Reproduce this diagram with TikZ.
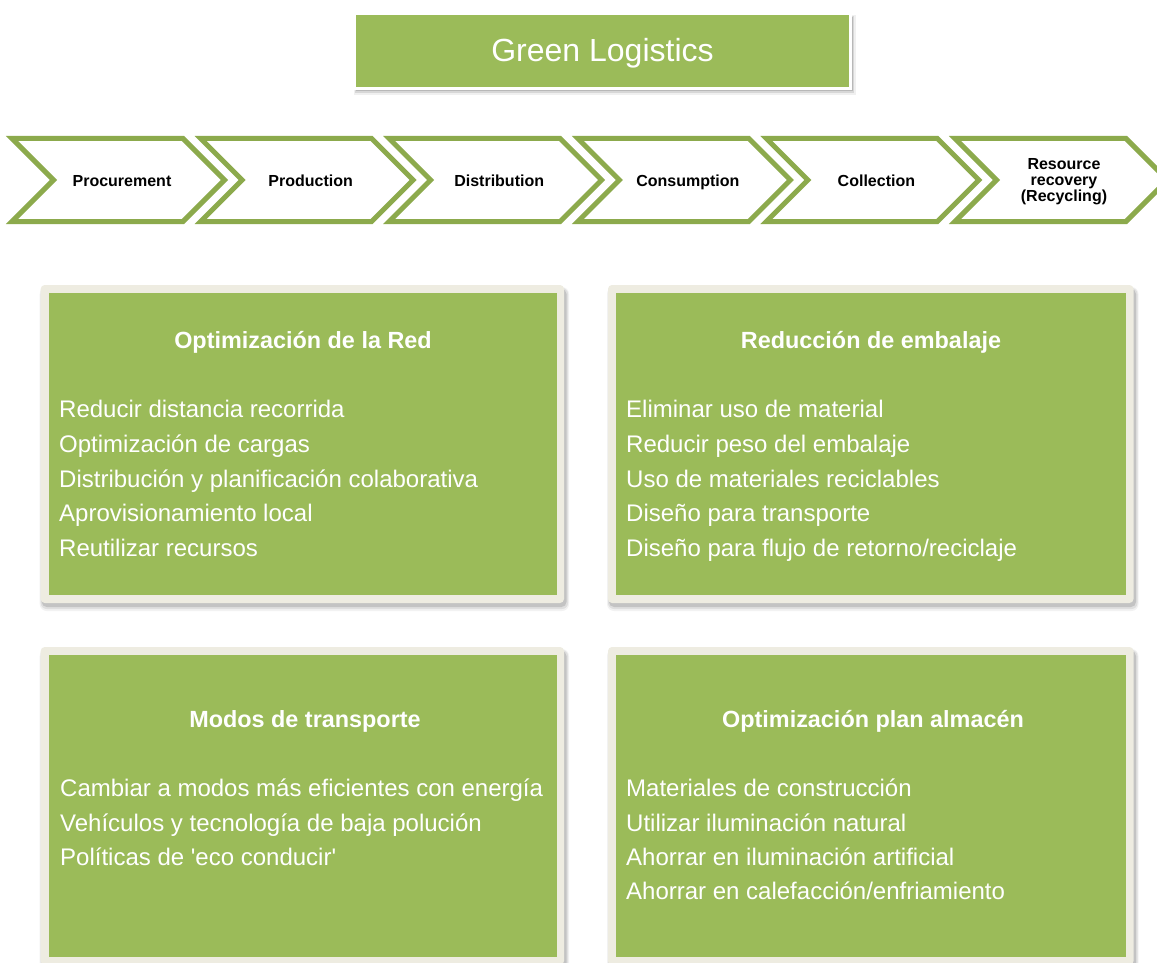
\documentclass[tikz,border=0pt]{standalone}
\usepackage{fontspec}
\setmainfont{Liberation Sans}
\definecolor{olivefill}{HTML}{9BBB59}
\definecolor{chevline}{HTML}{8CAA4C}
\definecolor{panelframe}{HTML}{EEECE1}
\newcommand\greenpanel[4]{%
  \fill[black,opacity=0.05,rounded corners=7] (#1-1,#2+2) rectangle (#3+5,#4+8);
  \fill[black,opacity=0.08,rounded corners=6] (#1,#2+3) rectangle (#3+4,#4+6);
  \fill[black,opacity=0.12,rounded corners=5] (#1+1,#2+4) rectangle (#3+2.5,#4+4);
  \fill[panelframe,rounded corners=4] (#1,#2) rectangle (#3,#4);
  \fill[olivefill] (#1+8.3,#2+8) rectangle (#3-7.5,#4-8);
}
\begin{document}
\begin{tikzpicture}[x=1pt,y=-1pt,
  chevshape/.style={draw=chevline,line width=5pt,miter limit=10,line join=miter,fill=white},
  chevtext/.style={font=\fontsize{16}{16.8}\selectfont\bfseries,align=center,text=black,inner sep=0},
  paneltitle/.style={font=\fontsize{23.4}{26}\selectfont\bfseries,text=white,anchor=base,inner sep=0},
  panelitem/.style={font=\fontsize{24}{28}\selectfont,text=white,anchor=base west,inner sep=0},
  maintitle/.style={font=\fontsize{32}{36}\selectfont,text=white,anchor=base,inner sep=0}]
\useasboundingbox (0,0) rectangle (1157,963);
\fill[white] (0,0) rectangle (1157,963);

% title box
\fill[black,opacity=0.06] (354,15) rectangle (856,95);
\fill[black,opacity=0.10] (355,16) rectangle (854,93);
\fill[black,opacity=0.14] (356,17) rectangle (853,91.5);
\filldraw[fill=olivefill,draw=white,line width=3pt] (354.5,13.5) rectangle (850.5,88.5);
\node[maintitle] (title) at (602.5,62) {Green Logistics};

% chevrons
\foreach \i/\t in {0/Procurement,1/Production,2/Distribution,3/Consumption,4/Collection}{
  \pgfmathsetmacro\cx{12+188.6*\i}
  \draw[chevshape] (\cx,138.5) -- (\cx+171,138.5) -- (\cx+212.5,180) -- (\cx+171,221.5) -- (\cx,221.5) -- (\cx+41.5,180) -- cycle;
  \node[chevtext,anchor=base] (chev\i) at (\cx+110,186) {\t};
}
\draw[chevshape] (955,138.5) -- (1126,138.5) -- (1167.5,180) -- (1126,221.5) -- (955,221.5) -- (996.5,180) -- cycle;
\node[chevtext,anchor=base] (chev5a) at (1064,169) {Resource};
\node[chevtext,anchor=base] (chev5b) at (1064,185.5) {recovery};
\node[chevtext,anchor=base] (chev5c) at (1064,201) {(Recycling)};

% panels
\greenpanel{40.7}{285}{564}{603}
\greenpanel{608}{285}{1133.5}{603}
\greenpanel{40.7}{647}{564}{965}
\greenpanel{608}{647}{1133.5}{965}

% panel 1
\node[paneltitle] (t1) at (303,348) {Optimización de la Red};
\node[panelitem] (a1) at (59,417) {Reducir distancia recorrida};
\node[panelitem] (a2) at (59,452) {Optimización de cargas};
\node[panelitem] (a3) at (59,487) {Distribución y planificación colaborativa};
\node[panelitem] (a4) at (59,521) {Aprovisionamiento local};
\node[panelitem] (a5) at (59,556) {Reutilizar recursos};

% panel 2
\node[paneltitle] (t2) at (871,348) {Reducción de embalaje};
\node[panelitem] (b1) at (626,417) {Eliminar uso de material};
\node[panelitem] (b2) at (626,452) {Reducir peso del embalaje};
\node[panelitem] (b3) at (626,487) {Uso de materiales reciclables};
\node[panelitem] (b4) at (626,521) {Diseño para transporte};
\node[panelitem] (b5) at (626,556) {Diseño para flujo de retorno/reciclaje};

% panel 3
\node[paneltitle] (t3) at (305,727) {Modos de transporte};
\node[panelitem] (c1) at (60,796) {Cambiar a modos más eficientes con energía};
\node[panelitem] (c2) at (60,831) {Vehículos y tecnología de baja polución};
\node[panelitem] (c3) at (60,865) {Políticas de \textquotesingle eco conducir\textquotesingle};

% panel 4
\node[paneltitle] (t4) at (873,727) {Optimización plan almacén};
\node[panelitem] (d1) at (626,796) {Materiales de construcción};
\node[panelitem] (d2) at (626,831) {Utilizar iluminación natural};
\node[panelitem] (d3) at (626,865) {Ahorrar en iluminación artificial};
\node[panelitem] (d4) at (626,899) {Ahorrar en calefacción/enfriamiento};
\end{tikzpicture}
\end{document}
